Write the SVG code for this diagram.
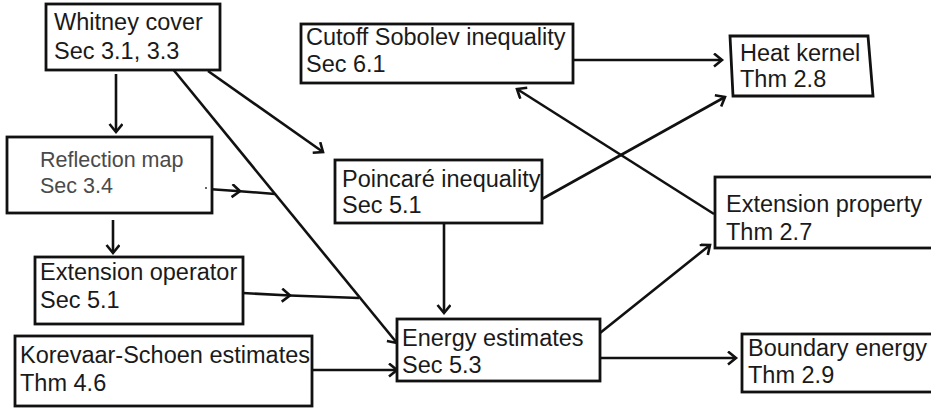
<svg xmlns="http://www.w3.org/2000/svg" width="931" height="410" viewBox="0 0 931 410">
<defs>
<style>
.box{fill:#fff;stroke:#111;stroke-width:2.8}
.t{font-family:"Liberation Sans",Arial,Helvetica,sans-serif;font-size:23.5px;fill:#1a1a1a}
.g{font-family:"Liberation Sans",Arial,Helvetica,sans-serif;font-size:21.5px;fill:#4a4a4a}
.e{fill:none;stroke:#111;stroke-width:2.6}
.arr{marker-end:url(#ah)}
.mid{marker-mid:url(#ah)}
</style>
<marker id="ah" markerUnits="userSpaceOnUse" markerWidth="14" markerHeight="16" refX="9" refY="7" orient="auto">
<path d="M1,0.5 L9,7 L1,13.5" fill="none" stroke="#111" stroke-width="2.6" stroke-linejoin="miter"/>
</marker>
</defs>
<rect width="931" height="410" fill="#fff"/>
<g id="connectors">
<path class="e arr" d="M116,74 L116,132"/>
<path class="e arr" d="M208,71 L323,152"/>
<path class="e arr" d="M172,68 L397,343"/>
<path class="e mid" d="M208,189 L240,191.2 L275,194"/>
<path class="e arr" d="M113,220 L113,253"/>
<path class="e mid" d="M243,293 L290,295.5 L359,298"/>
<path class="e arr" d="M312,370 L397,370"/>
<path class="e arr" d="M444,223 L444,313"/>
<path class="e arr" d="M573,60 L722,60"/>
<path class="e arr" d="M542,199 L725,97"/>
<path class="e arr" d="M714,214 L517,89"/>
<path class="e arr" d="M600,333 L710,245"/>
<path class="e arr" d="M600,358 L736,358"/>
</g>
<g id="whitney">
<rect class="box" x="46" y="4" width="174" height="66"/>
<text class="t" x="54" y="30">Whitney cover</text>
<text class="t" x="54" y="59">Sec 3.1, 3.3</text>
</g>
<g id="reflection">
<rect class="box" x="7" y="137" width="205" height="76"/>
<text class="g" x="40" y="167">Reflection map</text>
<text class="g" x="40" y="193">Sec 3.4</text>
<circle cx="206" cy="188" r="1" fill="#333"/>
</g>
<g id="extop">
<rect class="box" x="35" y="257" width="208" height="67"/>
<text class="t" x="40" y="280">Extension operator</text>
<text class="t" x="40" y="308">Sec 5.1</text>
</g>
<g id="korevaar">
<rect class="box" x="15" y="336" width="297" height="70"/>
<text class="t" x="20" y="363">Korevaar-Schoen estimates</text>
<text class="t" x="20" y="391">Thm 4.6</text>
</g>
<g id="cutoff">
<rect class="box" x="301" y="24" width="272" height="59"/>
<text class="t" x="306" y="45">Cutoff Sobolev inequality</text>
<text class="t" x="306" y="72">Sec 6.1</text>
</g>
<g id="poincare">
<rect class="box" x="335" y="160" width="207" height="63"/>
<text class="t" x="342" y="187">Poincaré inequality</text>
<text class="t" x="342" y="213">Sec 5.1</text>
</g>
<g id="energy">
<rect class="box" x="397" y="319" width="203" height="62"/>
<text class="t" x="402" y="346">Energy estimates</text>
<text class="t" x="402" y="373">Sec 5.3</text>
</g>
<g id="heat">
<polygon class="box" points="730,36 868,36 873,96 733,96"/>
<text class="t" x="740" y="61">Heat kernel</text>
<text class="t" x="740" y="87">Thm 2.8</text>
</g>
<g id="extprop">
<rect class="box" x="715" y="177" width="230" height="71"/>
<text class="t" x="726" y="212">Extension property</text>
<text class="t" x="726" y="240">Thm 2.7</text>
</g>
<g id="boundary">
<rect class="box" x="742" y="334" width="200" height="58"/>
<text class="t" x="748" y="356">Boundary energy</text>
<text class="t" x="748" y="383">Thm 2.9</text>
</g>
</svg>
